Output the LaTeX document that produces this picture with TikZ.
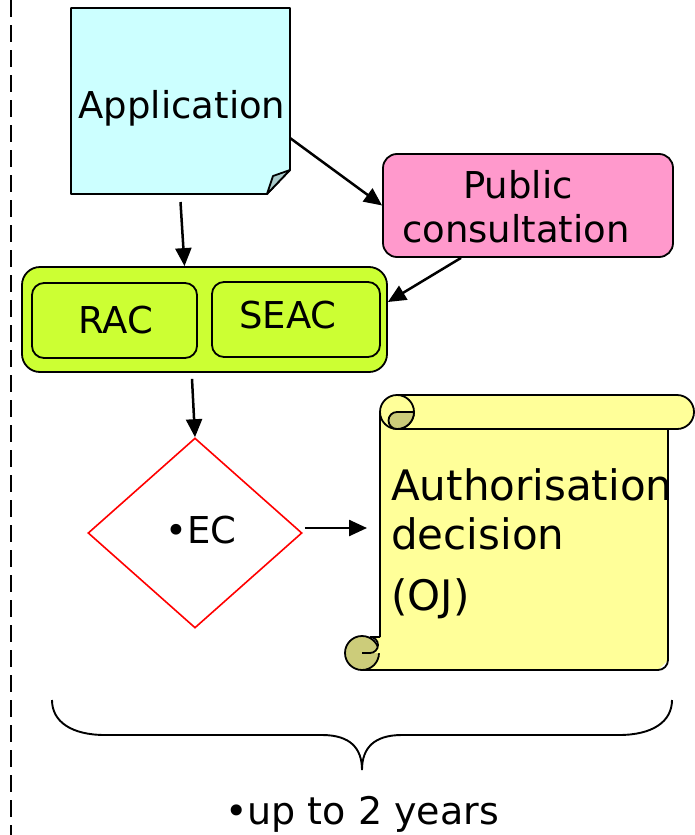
\documentclass[tikz,border=0pt]{standalone}
\usepackage{fontspec}
\setmainfont{DejaVu Sans}
\usetikzlibrary{shapes.geometric,arrows.meta,calc}
\definecolor{appcol}{HTML}{CCFFFF}
\definecolor{foldcol}{HTML}{A9CACA}
\definecolor{pubcol}{HTML}{FF99CC}
\definecolor{grpcol}{HTML}{CCFF33}
\definecolor{scrollcol}{HTML}{FFFF99}
\definecolor{curlcol}{HTML}{CCCC7A}
\begin{document}
\begin{tikzpicture}[x=1pt,y=-1pt,
  outl/.style={draw=black, line width=1.8pt},
  arr/.style={-{Triangle[length=18pt,width=16pt]}, line width=2.5pt},
  txt/.style={font=\fontsize{37}{45}\selectfont, inner sep=0pt, anchor=base},
  bigtxt/.style={font=\fontsize{42}{50}\selectfont, inner sep=0pt, anchor=base west},
  holder/.style={inner sep=0pt, outer sep=0pt}]
\useasboundingbox (0,0) rectangle (694,835);
% dashed boundary line
\draw[line width=2.5pt, dash pattern=on 17pt off 8pt] (11,0) -- (11,835);
% Application (folded note)
\draw[outl, fill=appcol, line join=round] (71,8) -- (290,8) -- (290,170) -- (267,194) -- (71,194) -- cycle;
\draw[outl, fill=foldcol, line join=round] (290,170) -- (273,176) -- (267,194) -- cycle;
\node[holder, minimum width=219pt, minimum height=186pt] (appbox) at (180.5,101) {};
\node[txt] (apptext) at (182,118) {Application};
% Public consultation
\node[outl, fill=pubcol, rounded corners=14pt, minimum width=290pt, minimum height=103pt] (pub) at (528,205.5) {};
\node[txt] (pubt1) at (518,198) {Public};
\node[txt] (pubt2) at (516,242) {consultation};
% Committees
\node[outl, fill=grpcol, rounded corners=18pt, minimum width=365pt, minimum height=105pt] (grp) at (204.5,319.5) {};
\node[outl, fill=grpcol, rounded corners=12pt, minimum width=165pt, minimum height=75pt] (racbox) at (114.5,320.5) {};
\node[outl, fill=grpcol, rounded corners=12pt, minimum width=168pt, minimum height=75pt] (seacbox) at (296,319.5) {};
\node[txt] (ract) at (116,333) {RAC};
\node[txt] (seact) at (288,328) {SEAC};
% EC decision
\node[diamond, draw=red, line width=1.6pt, minimum width=214pt, minimum height=190pt, inner sep=0pt] (ec) at (195,533) {};
\node[txt] (ect) at (201,543) {•EC};
% Scroll
\fill[scrollcol] (380,412) -- (380,653) -- (362,670) -- (658,670) -- (668,660) -- (668,429) -- (397,429) -- cycle;
\draw[outl, rounded corners=10pt] (668,429) -- (668,670) -- (362,670);
\draw[outl] (380,412) -- (380,637);
\draw[outl, fill=curlcol] (362,653) circle[radius=17];
\fill[scrollcol] (380,637) -- (370,637) arc[start angle=-90, end angle=90, radius=8] -- (380,653) -- cycle;
\draw[outl] (380,637) -- (370,637) arc[start angle=-90, end angle=90, radius=8] -- (362,653);
\draw[outl, fill=scrollcol] (397,395) -- (677,395) arc[start angle=-90, end angle=90, radius=17] -- (397,429) -- cycle;
\draw[outl, fill=scrollcol] (397,412) circle[radius=17];
\draw[outl, fill=curlcol] (397,412) arc[start angle=-90, end angle=-270, radius=8.5] arc[start angle=90, end angle=0, radius=17] -- cycle;
\node[holder, minimum width=288pt, minimum height=241pt] (auth) at (524,549.5) {};
\node[bigtxt] (a1) at (391,500) {Authorisation};
\node[bigtxt] (a2) at (391,549) {decision};
\node[bigtxt] (a3) at (391,610) {(OJ)};
% arrows
\draw[arr] ([yshift=-8pt]appbox.south) -- ([xshift=-20pt]grp.north);
\draw[arr] ([yshift=-37pt]appbox.east) -- (pub.west);
\draw[arr] ([xshift=-67pt]pub.south) -- ([yshift=17.5pt]grp.east);
\draw[arr] ([xshift=-12.5pt,yshift=-6pt]grp.south) -- (ec.north);
\draw[arr] ([xshift=2pt,yshift=5pt]ec.east) -- ([xshift=-13pt,yshift=21.5pt]auth.west);
% brace and duration
\draw[line width=1.9pt] (52,700) .. controls (52,722) and (72,735) .. (105,735) -- (322,735) .. controls (350,735) and (362,748) .. (362,770) .. controls (362,748) and (374,735) .. (402,735) -- (619,735) .. controls (652,735) and (672,722) .. (672,700);
\node[txt, font=\fontsize{38}{45}\selectfont] (yrs) at (362,824) {•up to 2 years};
\end{tikzpicture}
\end{document}
